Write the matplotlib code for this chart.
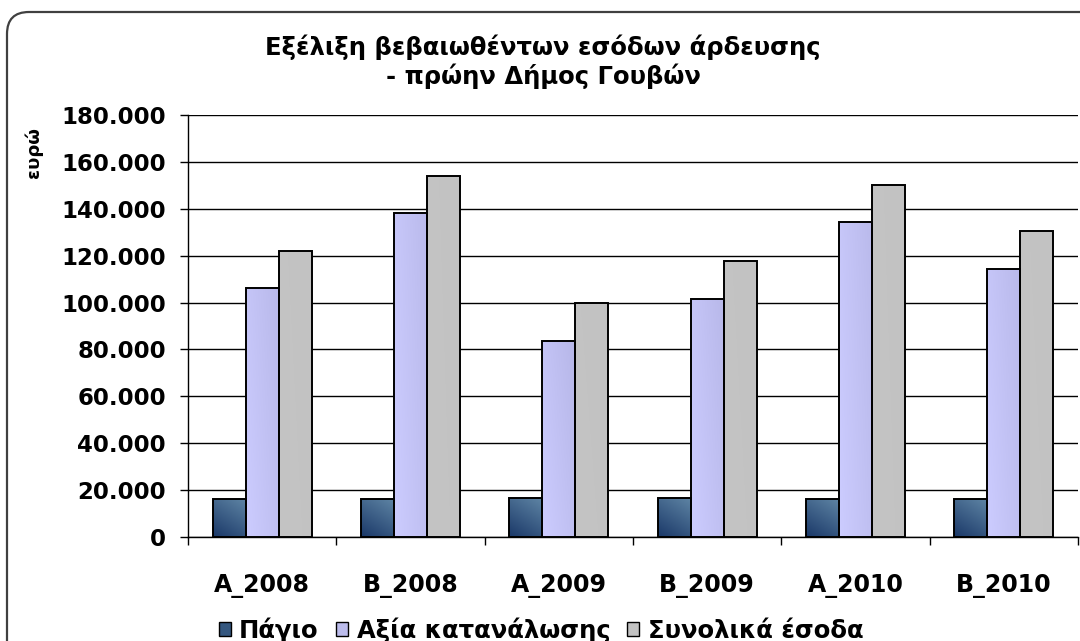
import numpy as np
import matplotlib.pyplot as plt
from matplotlib.patches import FancyBboxPatch, Patch
from matplotlib.transforms import IdentityTransform
from matplotlib.ticker import FuncFormatter

# Δεδομένα
periods = ['A_2008', 'B_2008', 'A_2009', 'B_2009', 'A_2010', 'B_2010']
pagio = [16000, 16000, 16500, 16500, 16000, 16000]
katanalosi = [106000, 138000, 83500, 101500, 134200, 114400]
synolika = [122000, 154000, 100000, 117600, 150300, 130500]
series_names = ['Πάγιο', 'Αξία κατανάλωσης', 'Συνολικά έσοδα']

plt.rcParams['font.family'] = ['DejaVu Sans']

fig = plt.figure(figsize=(10.8, 6.41), dpi=100)
ax = fig.add_axes([188 / 1080, 1 - 537 / 641, 890 / 1080, 422 / 641])

# πλαίσιο με στρογγυλές γωνίες
frame = FancyBboxPatch((7, -40), 1120, 641 - 12 + 40,
                       boxstyle='round,pad=0,rounding_size=22',
                       transform=IdentityTransform(), fill=False,
                       edgecolor='#404040', linewidth=1.6, zorder=0)
fig.patches.append(frame)

x = np.arange(len(periods))
w = 1 / 4.5
# χρώματα διαβάθμισης (πάνω-αριστερά, κάτω-δεξιά)
grads = [('#1a3868', '#5e84a4'), ('#ccccff', '#a8a8d8'), ('#c4c4c4', '#c0c0c0')]


def hex2rgb(h):
    h = h.lstrip('#')
    return np.array([int(h[i:i + 2], 16) / 255 for i in (0, 2, 4)])


for i, vals in enumerate([pagio, katanalosi, synolika]):
    bars = ax.bar(x + (i - 1) * w, vals, w, color='none', edgecolor='black',
                  linewidth=1.4, zorder=4)
    c1, c2 = hex2rgb(grads[i][0]), hex2rgb(grads[i][1])
    for b in bars:
        bx, by = b.get_x(), b.get_y()
        bw, bh = b.get_width(), b.get_height()
        gx, gy = np.meshgrid(np.linspace(0, 1, 40), np.linspace(0, 1, 200))
        t = np.clip(0.35 * gx + 0.65 * gy * min(1, 30000 / bh), 0, 1)
        img = c1[None, None, :] * (1 - t[..., None]) + c2[None, None, :] * t[..., None]
        im = ax.imshow(img, extent=(bx, bx + bw, by + bh, by), origin='upper',
                       aspect='auto', zorder=3, interpolation='bilinear')
        im.set_clip_path(b)

ax.set_xlim(-0.5, len(periods) - 0.5)
ax.set_ylim(0, 180000)
ax.set_yticks(np.arange(0, 180001, 20000))
ax.yaxis.set_major_formatter(FuncFormatter(lambda v, p: f'{int(v):,}'.replace(',', '.')))
ax.yaxis.grid(True, color='black', linewidth=1.0, zorder=1)
ax.set_axisbelow(True)

ax.set_xticks(x)
ax.set_xticklabels(periods, fontsize=17, fontweight='bold')
ax.set_xticks(np.arange(-0.5, len(periods)), minor=True)
ax.tick_params(axis='x', which='major', length=0, pad=27)
ax.tick_params(axis='x', which='minor', length=6, direction='out', width=1)
ax.tick_params(axis='y', length=6, width=1, labelsize=16.5, pad=10)
for lab in ax.get_yticklabels():
    lab.set_fontweight('bold')

for s in ['top', 'right']:
    ax.spines[s].set_visible(False)
ax.spines['left'].set_linewidth(1.0)
ax.spines['bottom'].set_linewidth(1.0)

fig.text(34 / 1080, 1 - 153 / 641, 'ευρώ', rotation=90, fontsize=13,
         fontweight='bold', ha='center', va='center')

fig.text(543 / 1080, 1 - 47 / 641, 'Εξέλιξη βεβαιωθέντων εσόδων άρδευσης',
         fontsize=17.5, fontweight='bold', ha='center', va='center')
fig.text(543 / 1080, 1 - 76 / 641, '- πρώην Δήμος Γουβών',
         fontsize=17.5, fontweight='bold', ha='center', va='center')

handles = [Patch(facecolor='#34577f', edgecolor='black', linewidth=1.0),
           Patch(facecolor='#bcbcec', edgecolor='black', linewidth=1.0),
           Patch(facecolor='#c2c2c2', edgecolor='black', linewidth=1.0)]
fig.legend(handles, series_names, loc='center', bbox_to_anchor=(541 / 1080, 1 - 630 / 641),
           ncol=3, frameon=False, prop={'weight': 'bold', 'size': 17.5},
           handlelength=0.5, handleheight=0.55, handletextpad=0.35, columnspacing=0.7,
           borderpad=0.1)

fig.savefig('out.png', dpi=100)
